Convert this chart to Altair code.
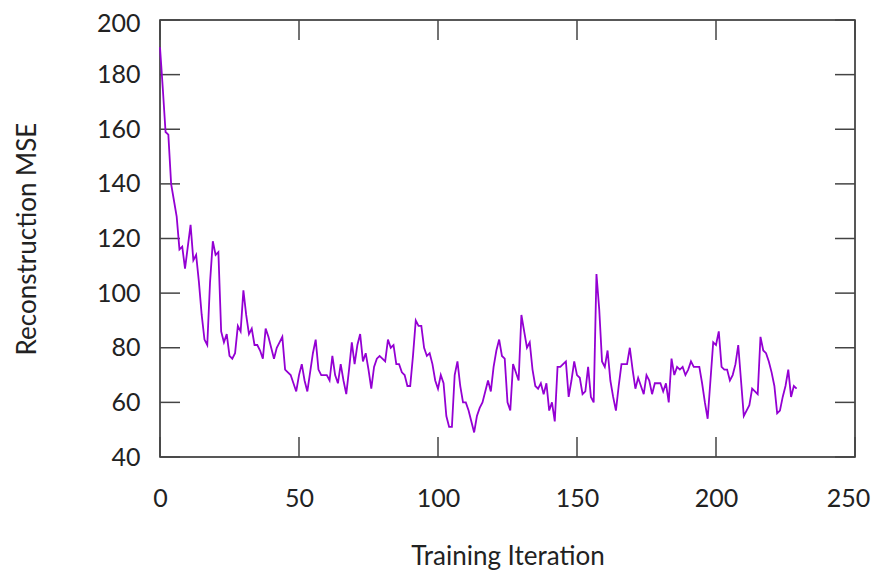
import altair as alt
import pandas as pd

iterations = list(range(230))
mse = [
    190, 175, 159, 158, 140, 134, 128, 116, 117, 109,
    117, 125, 112, 114, 104, 92, 83, 81, 104, 119,
    114, 115, 86, 82, 85, 77, 76, 78, 88, 86,
    101, 92, 85, 87, 81, 81, 79, 76, 87, 84,
    80, 76, 80, 82, 84, 72, 71, 70, 67, 64,
    70, 74, 68, 64, 71, 78, 83, 72, 70, 70,
    70, 68, 77, 70, 67, 74, 68, 63, 72, 82,
    74, 81, 85, 75, 78, 72, 65, 73, 76, 77,
    76, 75, 83, 80, 81, 74, 74, 71, 70, 66,
    66, 77, 90, 88, 88, 80, 77, 78, 74, 68,
    65, 70, 67, 55, 51, 51, 70, 75, 66, 60,
    60, 57, 53, 49, 55, 58, 60, 64, 68, 64,
    73, 79, 83, 77, 76, 60, 57, 74, 71, 68,
    92, 86, 80, 82, 72, 66, 65, 67, 63, 67,
    57, 60, 53, 73, 73, 74, 75, 62, 68, 75,
    70, 69, 63, 64, 73, 62, 60, 107, 94, 75,
    73, 79, 68, 62, 57, 66, 74, 74, 74, 80,
    72, 65, 69, 66, 63, 70, 68, 63, 67, 67,
    67, 64, 67, 60, 76, 70, 73, 72, 73, 70,
    72, 75, 73, 73, 73, 67, 60, 54, 68, 82,
    81, 86, 73, 72, 72, 68, 70, 74, 81, 68,
    55, 57, 59, 65, 64, 63, 84, 79, 78, 75,
    71, 66, 56, 57, 62, 66, 72, 62, 66, 65,
]
x_ticks = [0, 50, 100, 150, 200, 250]
y_ticks = [40, 60, 80, 100, 120, 140, 160, 180, 200]

W, H = 695, 437
FONT = "Lato"
TICK_LEN = 20
LABEL_SIZE = 25
TITLE_SIZE = 26

df = pd.DataFrame({"iteration": iterations, "mse": mse})
xt = pd.DataFrame({"iteration": x_ticks})
yt = pd.DataFrame({"mse": y_ticks})

x_scale = alt.Scale(domain=[0, 250], nice=False, zero=False)
y_scale = alt.Scale(domain=[40, 200], nice=False, zero=False)

x_axis = alt.Axis(values=x_ticks, title="Training Iteration", ticks=False, tickSize=0,
                  domain=False, grid=False, labelPadding=29, labelFontSize=LABEL_SIZE,
                  labelFont=FONT, labelColor="#222", titleFont=FONT, titleFontSize=TITLE_SIZE,
                  titleFontWeight="normal", titleColor="#222",
                  titleX=W / 2, titleY=107, titleBaseline="alphabetic", titleAlign="center",
                  labelFlush=False, labelOverlap=False,
                  labelOffset={"condition": {"test": "datum.value == 250", "value": -7}, "value": 0})
y_axis = alt.Axis(values=y_ticks, title="Reconstruction MSE", ticks=False, tickSize=0,
                  domain=False, grid=False, labelPadding=20, labelFontSize=LABEL_SIZE,
                  labelFont=FONT, labelColor="#222", titleFont=FONT, titleFontSize=TITLE_SIZE,
                  titleFontWeight="normal", titleColor="#222",
                  titleX=-133, titleY=H / 2, titleAngle=270, titleBaseline="middle",
                  titleAlign="center", labelFlush=False, labelOverlap=False,
                  labelOffset={"condition": {"test": "datum.value == 200", "value": 3}, "value": 0})

line = alt.Chart(df).mark_line(color="#9400D3", strokeWidth=1.8).encode(
    x=alt.X("iteration:Q", scale=x_scale, axis=x_axis),
    y=alt.Y("mse:Q", scale=y_scale, axis=y_axis),
)

tick_style = dict(color="#444", strokeWidth=1.5)
left_ticks = alt.Chart(yt).mark_rule(**tick_style).encode(
    y=alt.Y("mse:Q", scale=y_scale, axis=y_axis), x=alt.value(0), x2=alt.value(TICK_LEN))
right_ticks = alt.Chart(yt).mark_rule(**tick_style).encode(
    y=alt.Y("mse:Q", scale=y_scale, axis=y_axis), x=alt.value(W - TICK_LEN), x2=alt.value(W))
bottom_ticks = alt.Chart(xt).mark_rule(**tick_style).encode(
    x=alt.X("iteration:Q", scale=x_scale, axis=x_axis), y=alt.value(H - TICK_LEN), y2=alt.value(H))
top_ticks = alt.Chart(xt).mark_rule(**tick_style).encode(
    x=alt.X("iteration:Q", scale=x_scale, axis=x_axis), y=alt.value(0), y2=alt.value(TICK_LEN))

chart = alt.layer(left_ticks, right_ticks, bottom_ticks, top_ticks, line).properties(
    width=W, height=H,
    autosize=alt.AutoSizeParams(type="none"),
    padding={"left": 152, "top": 12, "right": 17, "bottom": 113},
    background="white",
).configure_view(stroke="#222", strokeWidth=1.5)

chart.save("out.html", embed_options={"renderer": "svg", "actions": False})
